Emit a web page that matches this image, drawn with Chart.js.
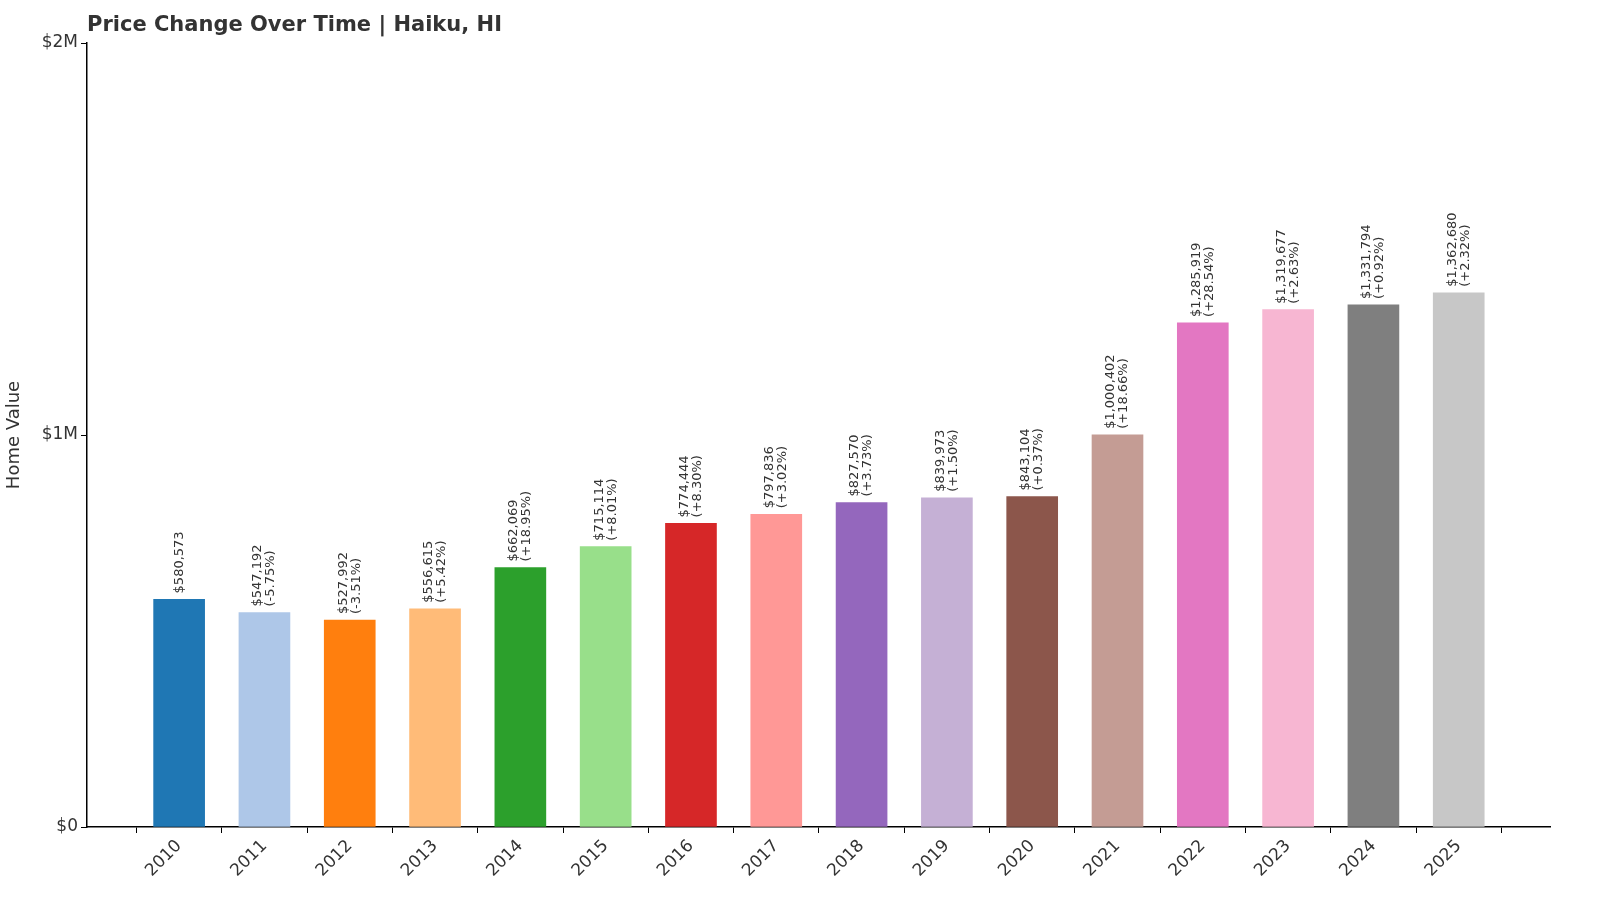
<!DOCTYPE html>
<html><head><meta charset="utf-8">
<script src="https://cdn.jsdelivr.net/npm/chart.js@4"></script>
<style>html,body{margin:0;padding:0;background:#fff;overflow:hidden}#wrap{width:1600px;height:914px}</style>
</head><body><div id="wrap"><canvas id="c"></canvas></div>
<script>
const years = ['2010','2011','2012','2013','2014','2015','2016','2017','2018','2019','2020','2021','2022','2023','2024','2025'];
const values = [580573,547192,527992,556615,662069,715114,774444,797836,827570,839973,843104,1000402,1285919,1319677,1331794,1362680];
const changes = ['','-5.75%','-3.51%','+5.42%','+18.95%','+8.01%','+8.30%','+3.02%','+3.73%','+1.50%','+0.37%','+18.66%','+28.54%','+2.63%','+0.92%','+2.32%'];
const colors = ['#1f77b4','#aec7e8','#ff7f0e','#ffbb78','#2ca02c','#98df8a','#d62728','#ff9896','#9467bd','#c5b0d5','#8c564b','#c49c94','#e377c2','#f7b6d2','#7f7f7f','#c7c7c7'];
const yTicks = [0,1000000,2000000];
const yTickLabels = ['$0','$1M','$2M'];

const font = "'DejaVu Sans', sans-serif";
const labelPlugin = {
  id:'labels',
  afterDatasetsDraw(chart){
    const ctx = chart.ctx, meta = chart.getDatasetMeta(0);
    ctx.save();
    ctx.fillStyle = '#333';
    ctx.font = '13px '+font;
    meta.data.forEach((bar,i)=>{
      const v = '$'+values[i].toLocaleString('en-US');
      ctx.save();
      ctx.translate(bar.x, bar.y-6);
      ctx.rotate(-Math.PI/2);
      ctx.textAlign='left';
      if(changes[i]){
        ctx.textBaseline='bottom'; ctx.fillText(v,0,0);
        ctx.textBaseline='top'; ctx.fillText('('+changes[i]+')',0,0);
      } else {
        ctx.textBaseline='middle'; ctx.fillText(v,0,0);
      }
      ctx.restore();
    });
    ctx.font = 'bold 21px '+font;
    ctx.fillStyle='#333'; ctx.textAlign='left'; ctx.textBaseline='middle';
    ctx.fillText('Price Change Over Time | Haiku, HI', 87, 26);
    ctx.restore();
  }
};

new Chart(document.getElementById('c'),{
  type:'bar',
  data:{datasets:[{data:values.map((v,i)=>({x:i,y:v})),backgroundColor:colors,barThickness:51}]},
  options:{
    responsive:true,maintainAspectRatio:false,animation:false,
    layout:{padding:{top:43,right:50,left:0,bottom:0}},
    plugins:{legend:{display:false},tooltip:{enabled:false}},
    scales:{
      x:{type:'linear',min:-1.08,max:16.07,offset:false,
        afterBuildTicks(s){s.ticks=years.map((y,i)=>({value:i}));},
        afterFit(s){s.height=87;},
        grid:{display:true,drawOnChartArea:false,drawTicks:true,tickLength:6,tickColor:'#000'},
        border:{display:true,color:'#000',width:1.5},
        ticks:{color:'#333',font:{size:17,family:font},maxRotation:45,minRotation:45,autoSkip:false,
          callback:(v)=>years[v]}
      },
      y:{min:0,max:2000000,
        afterBuildTicks(s){s.ticks=yTicks.map(v=>({value:v}));},
        afterFit(s){s.width=87;},
        grid:{display:true,drawOnChartArea:false,drawTicks:true,tickLength:6,tickColor:'#000'},
        border:{display:true,color:'#000',width:1.5},
        title:{display:true,text:'Home Value',color:'#333',font:{size:18,family:font}},
        ticks:{color:'#333',font:{size:17,family:font},callback:(v)=>yTickLabels[yTicks.indexOf(v)]}
      }
    }
  },
  plugins:[labelPlugin]
});
</script></body></html>
